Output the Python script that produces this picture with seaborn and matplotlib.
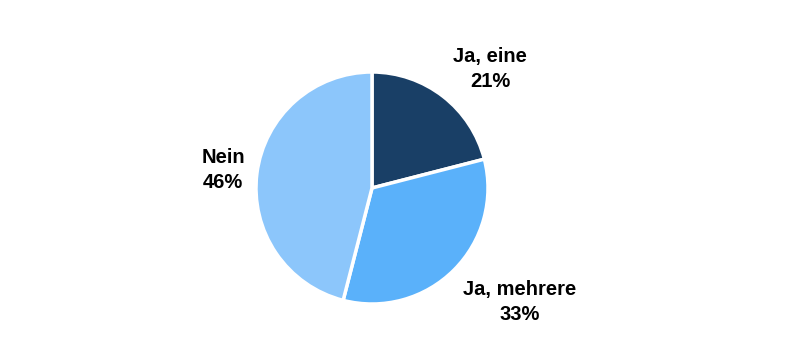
import matplotlib
matplotlib.use("Agg")
import matplotlib.pyplot as plt
import seaborn as sns

categories = ["Ja, eine", "Ja, mehrere", "Nein"]
values = [21, 33, 46]
colors = ["#193f66", "#5ab1fa", "#8cc6fb"]
# label anchor positions in pixel-like coordinates (x, y from top)
label_pos = [(490, 69), (520, 302), (223, 170)]

sns.set_theme(style="white")
plt.rcParams['font.family'] = ['Liberation Sans', 'DejaVu Sans']

fig = plt.figure(figsize=(8, 3.38), dpi=100)
ax = fig.add_axes([0, 0, 1, 1])

ax.pie(values, colors=colors, startangle=90, counterclock=False,
       center=(372, 338 - 188), radius=116,
       wedgeprops=dict(edgecolor='white', linewidth=2.5))

ax.set_xlim(0, 800)
ax.set_ylim(0, 338)
ax.set_aspect('equal')
ax.axis('off')

for cat, v, (x, y) in zip(categories, values, label_pos):
    ax.text(x, 338 - y, f"{cat}\n{v}%", ha='center', va='center',
            fontsize=14.5, fontweight='bold', color='black', linespacing=1.4)

fig.savefig("out.png", dpi=100)
